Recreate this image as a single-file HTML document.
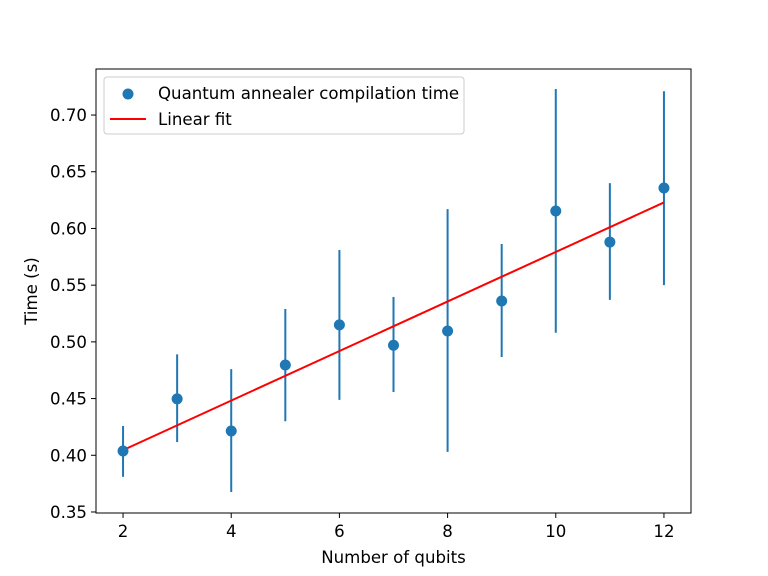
<!DOCTYPE html>
<html><head><meta charset="utf-8">
<style>
html,body{margin:0;padding:0;background:#fff;}
svg{display:block;font-family:"DejaVu Sans","Liberation Sans",sans-serif;}
</style></head>
<body>
<svg id="chart" width="768" height="576" viewBox="0 0 768 576" xmlns="http://www.w3.org/2000/svg">
<rect width="768" height="576" fill="#fff"/>
<g id="plot"></g>
</svg>
<script>
const qubits = [2,3,4,5,6,7,8,9,10,11,12];
const times = [0.4038,0.4497,0.4214,0.4796,0.515,0.497,0.5096,0.536,0.6154,0.588,0.6357];
const errUpper = [0.4258,0.489,0.476,0.529,0.581,0.5396,0.617,0.5863,0.723,0.640,0.721];
const errLower = [0.381,0.4117,0.3676,0.430,0.4488,0.4558,0.403,0.4867,0.508,0.537,0.550];
const xTicks = [2,4,6,8,10,12];
const yTicks = [0.35,0.40,0.45,0.50,0.55,0.60,0.65,0.70];

const L=96,R=691,T=69,B=513;
const xMin=1.5,xMax=12.5,yMin=0.3491,yMax=0.7406;
const FS=16.6;
const X=v=>L+(v-xMin)/(xMax-xMin)*(R-L);
const Y=v=>B-(v-yMin)/(yMax-yMin)*(B-T);
const NS="http://www.w3.org/2000/svg";
const g=document.getElementById('plot');
function mk(tag,attrs,parent){const e=document.createElementNS(NS,tag);for(const k in attrs)e.setAttribute(k,attrs[k]);(parent||g).appendChild(e);return e;}

qubits.forEach((q,i)=>{
  const e=mk('line',{x1:X(q),x2:X(q),y1:Y(errLower[i]),y2:Y(errUpper[i]),stroke:'#1f77b4','stroke-width':2});
  
  
});
const n=qubits.length;
const mx=qubits.reduce((a,b)=>a+b,0)/n, my=times.reduce((a,b)=>a+b,0)/n;
let sxy=0,sxx=0;qubits.forEach((q,i)=>{sxy+=(q-mx)*(times[i]-my);sxx+=(q-mx)*(q-mx);});
const slope=sxy/sxx, icpt=my-slope*mx;
const x0=qubits[0],x1=qubits[n-1];
const fit=mk('line',{x1:X(x0),y1:Y(icpt+slope*x0),x2:X(x1),y2:Y(icpt+slope*x1),stroke:'#ff0000','stroke-width':2});


qubits.forEach((q,i)=>{
  const c=mk('circle',{cx:X(q),cy:Y(times[i]),r:5.5,fill:'#1f77b4'});
  
  
});
const fr=mk('rect',{x:L,y:T,width:R-L,height:B-T,fill:'none',stroke:'#000','stroke-width':1});


xTicks.forEach(t=>{
  mk('line',{x1:X(t),x2:X(t),y1:B,y2:B+5,stroke:'#000','stroke-width':1});
  const tx=mk('text',{x:X(t),y:B+24,'text-anchor':'middle','font-size':FS});
  tx.textContent=t;
  
  
});
yTicks.forEach(t=>{
  mk('line',{x1:L-5,x2:L,y1:Y(t),y2:Y(t),stroke:'#000','stroke-width':1});
  const tx=mk('text',{x:L-9,y:Y(t)+6,'text-anchor':'end','font-size':FS});
  tx.textContent=t.toFixed(2);
  
  
});
const xl=mk('text',{x:(L+R)/2,y:563,'text-anchor':'middle','font-size':FS});
xl.textContent='Number of qubits';


const yl=mk('text',{x:0,y:0,'text-anchor':'middle','font-size':FS,transform:'translate(37,291) rotate(-90)'});
yl.textContent='Time (s)';


const lg=mk('g',{});


mk('rect',{x:104,y:77,width:360,height:57,rx:3,fill:'#fff','fill-opacity':0.8,stroke:'#ccc','stroke-width':1},lg);
mk('circle',{cx:128,cy:94,r:5.5,fill:'#1f77b4'},lg);
const t1=mk('text',{x:158,y:99,'font-size':FS},lg);t1.textContent='Quantum annealer compilation time';


mk('line',{x1:110,x2:146,y1:119,y2:119,stroke:'#ff0000','stroke-width':2},lg);
const t2=mk('text',{x:158,y:125,'font-size':FS},lg);t2.textContent='Linear fit';


</script>
</body></html>
